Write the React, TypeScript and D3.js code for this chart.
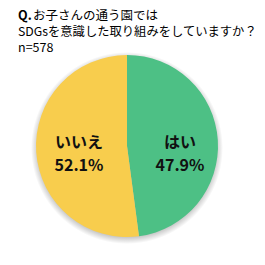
import React from "react";
import * as d3 from "d3";

const categories = ["はい", "いいえ"];
const values = [47.9, 52.1];
const colors = ["#00a550", "#f5b800"];
const titleLines = ["お子さんの通う園では", "SDGsを意識した取り組みをしていますか？", "n=578"];

export default function App() {
  const W = 265, H = 265;
  const cx = 127, cy = 146, r = 91;
  const pieGen = d3.pie().sort(null).value((d: any) => d);
  const slices = pieGen(values as any);
  const arcGen = d3.arc().innerRadius(0).outerRadius(r);
  const labelX = [180, 79];
  const font = "'Noto Sans CJK JP', 'Noto Sans', sans-serif";
  const sr = r + 5;
  const blended = colors.map((c) => d3.interpolateRgb(c, "#ffffff")(0.3));
  return (
    <svg width={W} height={H} style={{ position: "absolute", left: 0, top: 0 }}>
      <defs>
        <radialGradient id="shadowGrad" cx="50%" cy="50%" r="50%">
          <stop offset={`${((r - 3) / sr) * 100}%`} stopColor="#000" stopOpacity={0.25} />
          <stop offset="100%" stopColor="#000" stopOpacity={0} />
        </radialGradient>
      </defs>
      <rect width={W} height={H} fill="#ffffff" />
      <text x={18} y={20} fontFamily={font} fontSize={12.5} fontWeight="bold" fill="#000">Q.</text>
      <text x={33} y={20} fontFamily={font} fontSize={12.5} fill="#000">{titleLines[0]}</text>
      <text x={18} y={36} fontFamily={font} fontSize={12.3} fill="#000">{titleLines[1]}</text>
      <text x={18} y={52} fontFamily={font} fontSize={12.5} fill="#000">{titleLines[2]}</text>
      <circle cx={cx} cy={cy + 2} r={sr} fill="url(#shadowGrad)" />
      <g transform={`translate(${cx},${cy})`}>
        {slices.map((p: any, i: number) => (
          <path key={"c" + i} d={(arcGen as any)(p) || ""} fill={blended[i]} />
        ))}
      </g>
      {slices.map((p: any, i: number) => (
        <g key={"t" + i} fontFamily={font} fontWeight="bold" fontSize={16} textAnchor="middle" fill="#111">
          <text x={labelX[i]} y={148}>{categories[i]}</text>
          <text x={labelX[i]} y={171}>{values[i].toFixed(1)}%</text>
        </g>
      ))}
    </svg>
  );
}
